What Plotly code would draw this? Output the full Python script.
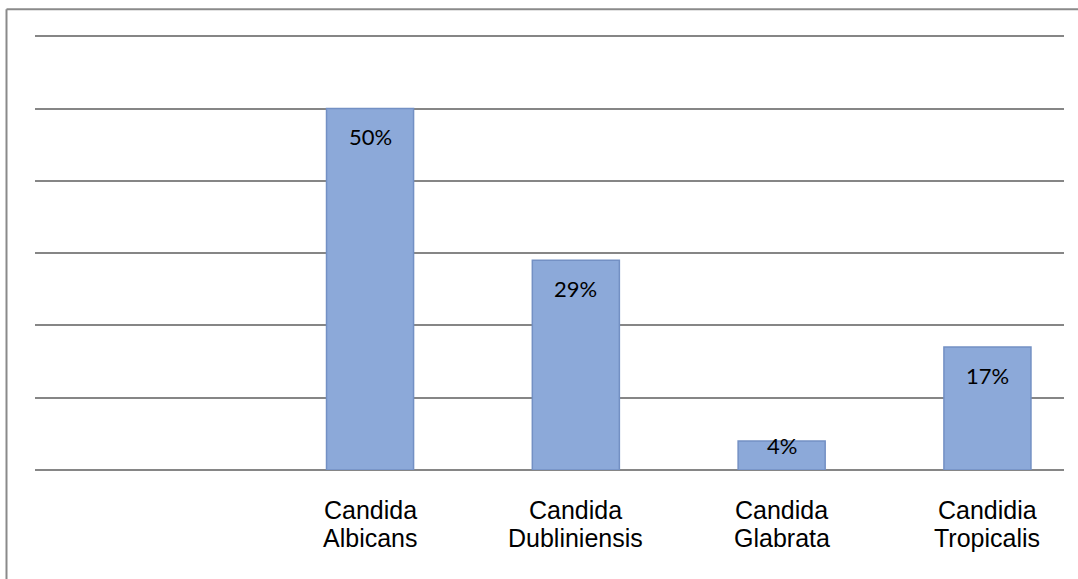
import plotly.graph_objects as go

# Species share among isolates (percent)
positions = [1, 2, 3, 4]
species = ["Candida Albicans", "Candida Dubliniensis", "Candida Glabrata", "Candidia Tropicalis"]
shares = [50, 29, 4, 17]
labels = [f"{v}%" for v in shares]

Y_TOP_GRID = 60
Y_RANGE_MAX = 61
PLOT_TOP, PLOT_BOTTOM = 29, 109
FIG_W, FIG_H = 1078, 579
px_per_unit = (FIG_H - PLOT_TOP - PLOT_BOTTOM) / Y_RANGE_MAX

fig = go.Figure()
fig.add_trace(go.Bar(
    x=positions,
    y=shares,
    marker=dict(color="#8ca9d9", line=dict(color="#7390c4", width=1.5)),
    hoverinfo="skip",
))

annotations = []
# value labels just inside the top of each bar (short bars: label sits at the top edge)
for pos, val, lab in zip(positions, shares, labels):
    bar_px = val * px_per_unit
    offset = 28 if bar_px > 60 else 4
    annotations.append(dict(
        x=pos, y=val, xref="x", yref="y", text=lab, showarrow=False,
        yanchor="middle", yshift=-offset,
        font=dict(family="Lato, Open Sans, sans-serif", size=22, color="#000000"),
    ))

# two-line category labels under the axis
for pos, name in zip(positions, species):
    first, second = name.split(" ", 1)
    for line, shift in ((first, -24), (second, -52)):
        annotations.append(dict(
            x=pos, y=0, xref="x", yref="paper", text=line, showarrow=False,
            yanchor="top", yshift=shift,
            font=dict(family="Liberation Sans, Arial, sans-serif", size=25, color="#000000"),
        ))

gray = "#868686"
fig.update_layout(
    width=FIG_W,
    height=FIG_H,
    margin=dict(l=35, r=14, t=PLOT_TOP, b=PLOT_BOTTOM),
    paper_bgcolor="white",
    plot_bgcolor="white",
    bargap=0.577,
    showlegend=False,
    xaxis=dict(
        range=[-0.628, 4.372],
        showticklabels=False,
        ticks="",
        showgrid=False,
        zeroline=False,
        showline=False,
    ),
    yaxis=dict(
        range=[0, Y_RANGE_MAX],
        tickvals=list(range(0, Y_TOP_GRID + 1, 10)),
        showticklabels=False,
        ticks="",
        showgrid=True,
        gridcolor=gray,
        gridwidth=1.5,
        zeroline=True,
        zerolinecolor=gray,
        zerolinewidth=1.5,
    ),
    annotations=annotations,
    shapes=[
        # outer chart frame (top and left edges)
        dict(type="line", xref="paper", yref="paper",
             x0=-0.0277, x1=1.05, y0=1.045, y1=1.045,
             line=dict(color="#8a8a8a", width=2)),
        dict(type="line", xref="paper", yref="paper",
             x0=-0.0277, x1=-0.0277, y0=1.045, y1=-0.3,
             line=dict(color="#8a8a8a", width=2)),
    ],
)

fig.write_html("out.html")
